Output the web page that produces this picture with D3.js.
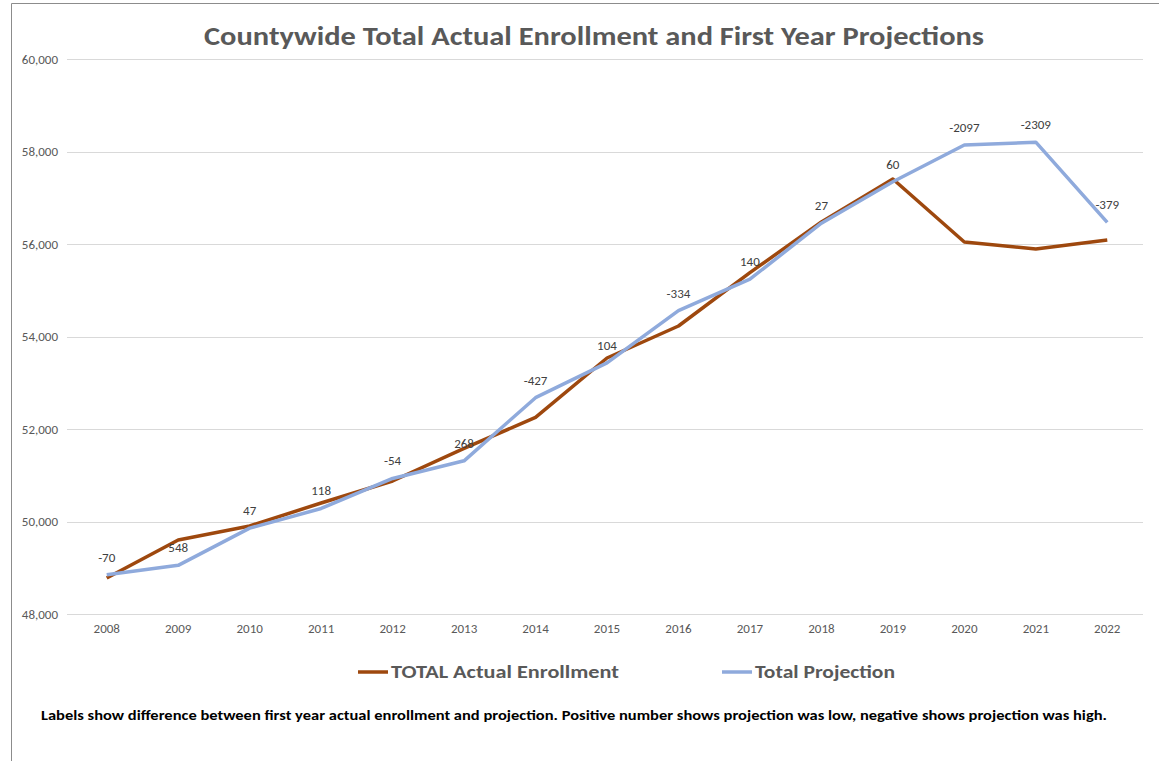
<!DOCTYPE html>
<html><head><meta charset="utf-8">
<script src="https://cdn.jsdelivr.net/npm/d3@7"></script>
<style>body{margin:0;background:#fff}svg{display:block}</style>
</head><body>
<script>
const years = ["2008","2009","2010","2011","2012","2013","2014","2015","2016","2017","2018","2019","2020","2021","2022"];
const actual = [48780,49600,49903,50400,50876,51580,52250,53535,54227,55380,56476,57405,56043,55892,56087];
const projection = [48850,49052,49856,50282,50930,51312,52677,53431,54561,55240,56449,57345,58140,58201,56466];
const diffLabels = ["-70","548","47","118","-54","268","-427","104","-334","140","27","60","-2097","-2309","-379"];
const yTicks = [48000,50000,52000,54000,56000,58000,60000];

const W=1159,H=761;
const svg=d3.select("body").append("svg").attr("width",W).attr("height",H);
const font="Carlito, Calibri, 'Liberation Sans', Arial, sans-serif";

svg.append("path").attr("d",`M11.5,${H} V3.5 H${W}`).attr("fill","none").attr("stroke","#8c8c8c").attr("stroke-width",1);

const x=d3.scaleBand().domain(years).range([71,1143]);
const y=d3.scaleLinear().domain([48000,60000]).range([614,59]);

// gridlines
svg.append("g").selectAll("line").data(yTicks).join("line")
  .attr("x1",67).attr("x2",1143).attr("y1",d=>Math.round(y(d))+0.5).attr("y2",d=>Math.round(y(d))+0.5)
  .attr("stroke","#d9d9d9").attr("stroke-width",1);

// y axis labels
const yAxis=d3.axisLeft(y).tickValues(yTicks).tickFormat(d3.format(",")).tickSize(0).tickPadding(0);
const ya=svg.append("g").attr("transform","translate(58,0)").call(yAxis);
ya.select(".domain").remove();
ya.selectAll("text").attr("fill","#595959").style("font-size","13px").style("font-family",font);

// x axis labels
const xAxis=d3.axisBottom(x).tickSize(0).tickPadding(0);
const xa=svg.append("g").attr("transform","translate(0,624)").call(xAxis);
xa.select(".domain").remove();
xa.selectAll("text").attr("fill","#595959").style("font-size","13px").style("font-family",font);

const cx=d=>x(d)+x.bandwidth()/2;
const line=d3.line().x((d,i)=>cx(years[i])).y(d=>y(d));

svg.append("path").datum(actual).attr("d",line).attr("fill","none")
  .attr("stroke","#9E480E").attr("stroke-width",3.5).attr("stroke-linejoin","round");
svg.append("path").datum(projection).attr("d",line).attr("fill","none")
  .attr("stroke","#8FAADC").attr("stroke-width",3.5).attr("stroke-linejoin","round");

// data labels
svg.append("g").selectAll("text").data(diffLabels).join("text")
  .attr("x",(d,i)=>cx(years[i])).attr("y",(d,i)=>y(projection[i])-13)
  .attr("text-anchor","middle").attr("fill","#404040")
  .style("font-size","13px").style("font-family",font).text(d=>d);

// title
svg.append("text").attr("x",594).attr("y",45).attr("text-anchor","middle")
  .attr("fill","#595959").style("font-size","26px").style("font-weight","bold")
  .style("font-family",font).attr("textLength",780).attr("lengthAdjust","spacingAndGlyphs")
  .text("Countywide Total Actual Enrollment and First Year Projections");

// legend
const leg=[{n:"TOTAL Actual Enrollment",c:"#9E480E",x:358,w:228},{n:"Total Projection",c:"#8FAADC",x:722,w:140}];
leg.forEach(l=>{
  svg.append("line").attr("x1",l.x).attr("x2",l.x+30).attr("y1",672).attr("y2",672)
    .attr("stroke",l.c).attr("stroke-width",3.5);
  svg.append("text").attr("x",l.x+33).attr("y",678).attr("fill","#595959")
    .style("font-size","18px").style("font-weight","bold").style("font-family",font)
    .attr("textLength",l.w).attr("lengthAdjust","spacingAndGlyphs").text(l.n);
});

// footnote
svg.append("text").attr("x",41).attr("y",720).attr("fill","#000")
  .style("font-size","13px").style("font-weight","bold").style("font-family",font)
  .attr("textLength",1066).attr("lengthAdjust","spacingAndGlyphs")
  .text("Labels show difference between first year actual enrollment and projection.  Positive number shows projection was low, negative shows projection was high.");
</script>
</body></html>
